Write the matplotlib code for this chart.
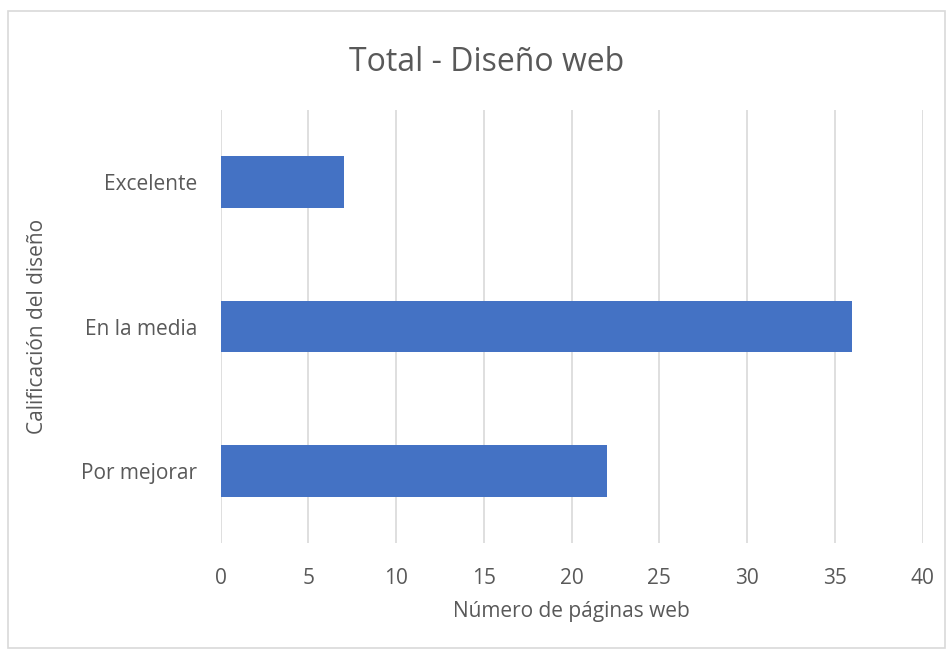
import matplotlib.pyplot as plt
from matplotlib.patches import Rectangle

categories = ["Excelente", "En la media", "Por mejorar"]
counts = [7, 36, 22]
x_ticks = [0, 5, 10, 15, 20, 25, 30, 35, 40]

plt.rcParams['font.family'] = ['Open Sans', 'DejaVu Sans']
text_color = "#595959"

fig = plt.figure(figsize=(9.52, 6.55), dpi=100)
ax = fig.add_axes([0.2318, 0.171, 0.7374, 0.661])

# top category at the top
pos = list(range(len(categories)))[::-1]
ax.barh(pos, counts, height=0.36, color="#4472C4", zorder=3)

ax.set_xlim(0, 40)
ax.set_ylim(-0.5, 2.5)
ax.set_xticks(x_ticks)
ax.set_yticks(pos)
ax.set_yticklabels(categories)
ax.grid(axis="x", color="#D9D9D9", linewidth=1.2, zorder=0)
for s in ax.spines.values():
    s.set_visible(False)
ax.tick_params(length=0, labelsize=15, colors=text_color)
ax.tick_params(axis="x", pad=18)
ax.tick_params(axis="y", pad=17)

ax.set_xlabel("Número de páginas web", fontsize=15, color=text_color, labelpad=9)
ax.set_ylabel("Calificación del diseño", fontsize=15, color=text_color, labelpad=24)
fig.text(0.511, 0.905, "Total - Diseño web", fontsize=23, color=text_color,
         ha="center", va="center")

# outer chart frame
fig.patches.append(Rectangle((0.0085, 0.011), 0.984, 0.972, transform=fig.transFigure,
                             fill=False, edgecolor="#D9D9D9", linewidth=1.2))

fig.savefig("out.png", dpi=100)
